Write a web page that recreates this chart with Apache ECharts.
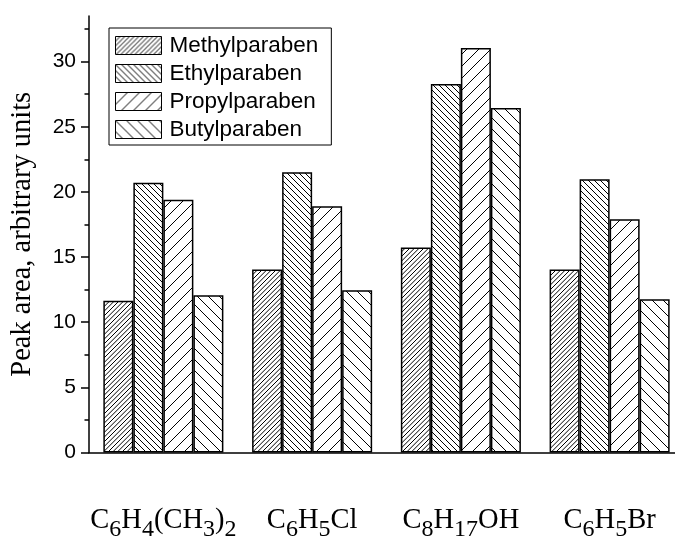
<!DOCTYPE html>
<html><head><meta charset="utf-8">
<script src="https://cdn.jsdelivr.net/npm/echarts@6/dist/echarts.min.js"></script>
<style>html,body{margin:0;padding:0;background:#fff}#c{width:675px;height:540px}</style>
</head><body><div id="c"></div>
<script>
var categories = ['C6H4(CH3)2', 'C6H5Cl', 'C8H17OH', 'C6H5Br'];
var seriesNames = ['Methylparaben', 'Ethylparaben', 'Propylparaben', 'Butylparaben'];
var methyl = [11.65, 14.05, 15.73, 14.05];
var ethyl = [20.7, 21.5, 28.28, 20.98];
var propyl = [19.4, 18.9, 31.04, 17.91];
var butyl = [12.06, 12.45, 26.44, 11.77];
var majorTicks = [0, 5, 10, 15, 20, 25, 30];
var minorTicks = [2.5, 7.5, 12.5, 17.5, 22.5, 27.5, 32.5];
var yTitle = 'Peak area, arbitrary units';

function hatch(tile, lines, dir) {
  var c = document.createElement('canvas');
  c.width = tile; c.height = tile;
  var g = c.getContext('2d');
  g.fillStyle = '#fff'; g.fillRect(0, 0, tile, tile);
  g.strokeStyle = '#000'; g.lineWidth = 1;
  var p = tile / lines;
  for (var j = -lines - 1; j <= 2 * lines + 1; j++) {
    var k = j * p;
    g.beginPath();
    if (dir === '/') { g.moveTo(k - tile, tile + tile); g.lineTo(k + tile + tile, -tile); }
    else { g.moveTo(k - tile, -tile); g.lineTo(k + tile + tile, tile + tile); }
    g.stroke();
  }
  return { image: c, repeat: 'repeat' };
}
var patterns = [hatch(14, 3, '/'), hatch(12, 2, '\\'), hatch(12, 1, '/'), hatch(11, 1, '\\')];
var datas = [methyl, ethyl, propyl, butyl];

function fmt(v) {
  return v.replace(/(\d+)|([^\d]+)/g, function (m, d, t) {
    return d ? '{s|' + d + '}' : '{m|' + t + '}';
  });
}

var chart = echarts.init(document.getElementById('c'), null, { renderer: 'canvas' });
var series = seriesNames.map(function (n, i) {
  return {
    name: n, type: 'bar', data: datas[i], barGap: '0%', barCategoryGap: '19.3%',
    itemStyle: { color: patterns[i], borderColor: '#000', borderWidth: 1.5 },
    animation: false
  };
});
chart.setOption({
  animation: false,
  grid: { left: 89, top: 16, width: 595, height: 436.5, containLabel: false, outerBoundsMode: 'none' },
  legend: {
    orient: 'vertical', left: 109, top: 28,
    padding: [6, 13, 4, 6], borderColor: '#000', borderWidth: 1,
    itemWidth: 46, itemHeight: 18, itemGap: 5,
    icon: 'rect',
    textStyle: { fontFamily: 'Liberation Sans', fontSize: 22.5, color: '#000', padding: [0, 0, 0, 3] },
    itemStyle: { borderColor: '#000', borderWidth: 1 },
    data: seriesNames
  },
  xAxis: {
    type: 'category', data: categories,
    axisLine: { lineStyle: { color: '#000', width: 1.5 } },
    axisTick: { alignWithLabel: true, length: 9, lineStyle: { color: '#000', width: 1.5 } },
    axisLabel: {
      interval: 0, hideOverlap: false,
      margin: 47, formatter: fmt,
      rich: {
        m: { fontFamily: 'Liberation Serif', fontSize: 28.5, color: '#000' },
        s: { fontFamily: 'Liberation Serif', fontSize: 24, color: '#000', padding: [18, 0, 0, 0] }
      }
    }
  },
  yAxis: [{
    type: 'value', min: 0, max: 33.5,
    name: yTitle, nameLocation: 'middle', nameGap: 52,
    nameTextStyle: { fontFamily: 'Liberation Serif', fontSize: 28.5, color: '#000' },
    axisLine: { show: true, lineStyle: { color: '#000', width: 1.5 } },
    axisTick: { show: true, length: 8, customValues: majorTicks, lineStyle: { color: '#000', width: 1.5 } },
    axisLabel: { customValues: majorTicks, margin: 13, fontFamily: 'Liberation Sans', fontSize: 21, color: '#000' },
    splitLine: { show: false }
  }, {
    type: 'value', min: 0, max: 33.5, position: 'left',
    axisLine: { show: false },
    axisTick: { show: true, length: 4.5, customValues: minorTicks, lineStyle: { color: '#000', width: 1.5 } },
    axisLabel: { show: false },
    splitLine: { show: false }
  }],
  series: series
});
</script></body></html>
